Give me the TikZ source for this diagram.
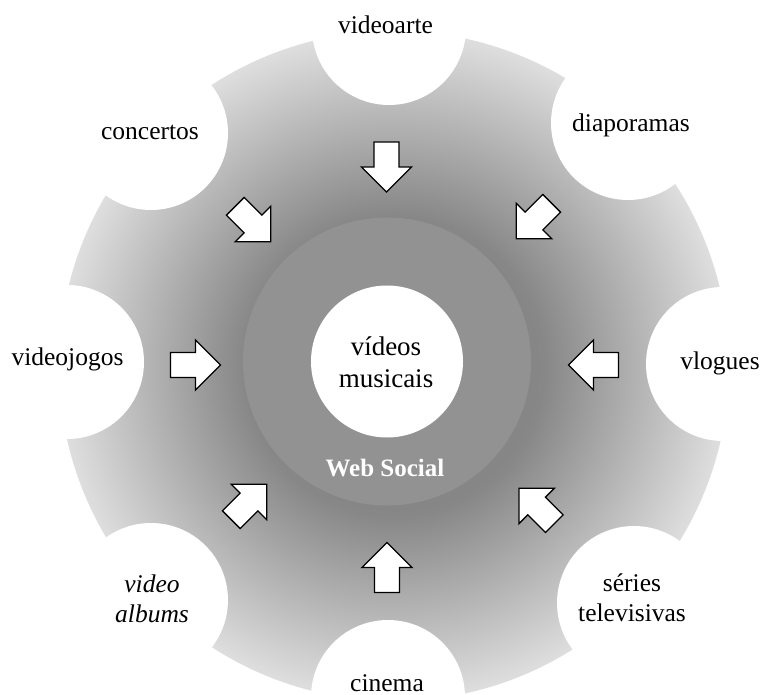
\documentclass[tikz,border=0pt]{standalone}
\usepackage{fontspec}
\setmainfont{Liberation Serif}

% greys of the toothed disk, its hub and the radial fade
\definecolor{gearcore}{RGB}{120,120,120}
\definecolor{gearin}{RGB}{135,135,135}
\definecolor{gearout}{RGB}{222,222,222}
\definecolor{hubgray}{RGB}{146,146,146}
\pgfdeclareradialshading{gearshade}{\pgfpoint{0bp}{0bp}}{%
  color(0bp)=(gearcore); color(11.2bp)=(gearin);
  color(25bp)=(gearout); color(50bp)=(gearout)}

\tikzset{
  sat/.style={circle, fill=white, minimum size=154pt, inner sep=0pt},
  lbl/.style={anchor=base, align=center, inner sep=0pt, text=black,
              font=\fontsize{25.5}{29.5}\selectfont},
  hubtext/.style={anchor=base, inner sep=0pt, text=white,
              font=\fontsize{25}{30}\selectfont\bfseries},
  pics/blockarrow/.style={code={
    \draw[fill=white, draw=black, line width=1.3pt, line join=miter, rotate=#1]
      (-25,-12.5) -- (0,-12.5) -- (0,-25) -- (25,0) -- (0,25) -- (0,12.5)
      -- (-25,12.5) -- cycle;}}
}

\begin{document}
\begin{tikzpicture}[x=1pt,y=1pt]
  \useasboundingbox (0,0) rectangle (761,-695);
  \clip (0,0) rectangle (761,-695);

  % toothed disk: shaded disk with white circles bitten out of its rim
  \shade[shading=gearshade] (394,-366) circle (335);
  \node[sat] (c-videoarte)  at (389,-28)  {};
  \node[sat] (c-diaporamas) at (628,-123) {};
  \node[sat] (c-vlogues)    at (723,-364) {};
  \node[sat] (c-series)     at (634,-603) {};
  \node[sat] (c-cinema)     at (388,-697) {};
  \node[sat] (c-albums)     at (151,-600) {};
  \node[sat] (c-videojogos) at (67,-362)  {};
  \node[sat] (c-concertos)  at (151,-133) {};

  % hub and core
  \node[circle, fill=hubgray, minimum size=288pt, inner sep=0pt] (hub) at (387,-361.5) {};
  \node[circle, fill=white, minimum size=152pt, inner sep=0pt] (core) at (387,-361.5) {};

  % labels (multi-line labels sit on the baseline of their last line)
  \node[lbl] (t-videoarte)  at (385.5,-34)  {videoarte};
  \node[lbl] (t-diaporamas) at (631,-132)   {diaporamas};
  \node[lbl] (t-vlogues)    at (720,-370)   {vlogues};
  \node[lbl] (t-series)     at (632,-621)   {séries\\televisivas};
  \node[lbl] (t-cinema)     at (387,-691)   {cinema};
  \node[lbl] (t-albums)     at (152,-622)   {\itshape video\\\itshape albums};
  \node[lbl] (t-videojogos) at (67.5,-365.5){videojogos};
  \node[lbl] (t-concertos)  at (150,-140)   {concertos};
  \node[lbl, font=\fontsize{27}{32}\selectfont] (t-core) at (386,-387) {vídeos\\musicais};
  \node[hubtext] (t-hub) at (385,-476) {Web Social};

  % inward block arrows
  \pic (a-videoarte)  at (386.5,-167) {blockarrow=-90};
  \pic (a-diaporamas) at (534,-221)   {blockarrow=-135};
  \pic (a-vlogues)    at (593.5,-365) {blockarrow=180};
  \pic (a-series)     at (536.6,-506) {blockarrow=135};
  \pic (a-cinema)     at (387,-567.5) {blockarrow=90};
  \pic (a-albums)     at (249,-502)   {blockarrow=45};
  \pic (a-videojogos) at (195.5,-365) {blockarrow=0};
  \pic (a-concertos)  at (253,-224)   {blockarrow=-45};
\end{tikzpicture}
\end{document}
